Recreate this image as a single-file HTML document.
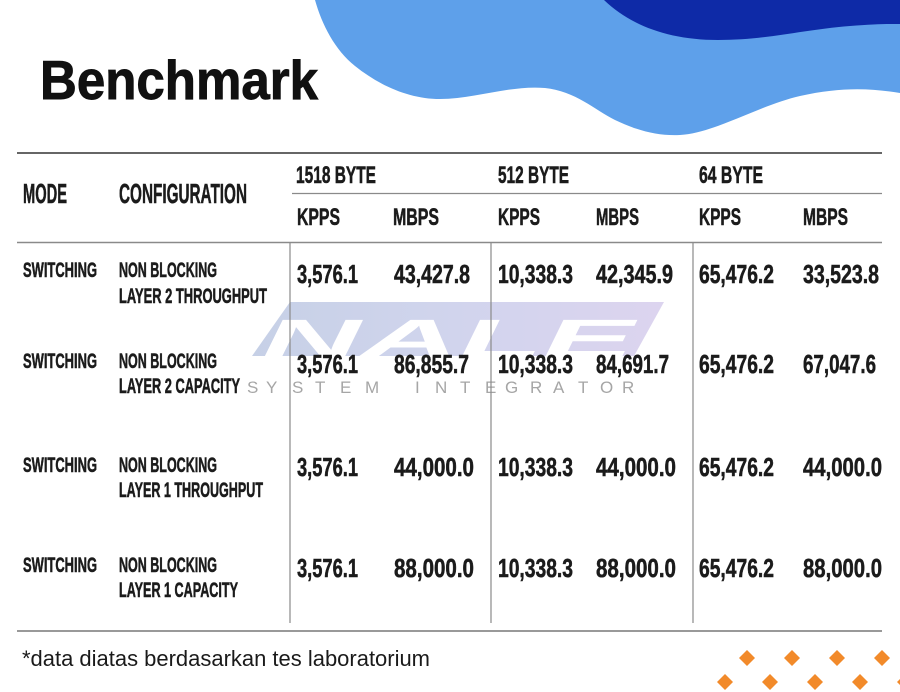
<!DOCTYPE html>
<html>
<head>
<meta charset="utf-8">
<style>
  html,body{margin:0;padding:0;background:#fff;}
  body{width:900px;height:692px;overflow:hidden;}
  svg{display:block;}
  .h{font-family:"Liberation Sans",sans-serif;font-weight:bold;fill:#1b1b1b;stroke:#1b1b1b;stroke-width:0.55;}
</style>
</head>
<body>
<svg width="900" height="692" viewBox="0 0 900 692" xmlns="http://www.w3.org/2000/svg">
  <defs>
    <linearGradient id="wm" x1="0" y1="0" x2="1" y2="0">
      <stop offset="0" stop-color="#bcc8e2"/>
      <stop offset="0.5" stop-color="#c9cdea"/>
      <stop offset="1" stop-color="#d6cdec"/>
    </linearGradient>
  </defs>
  <rect width="900" height="692" fill="#fff"/>

  <!-- waves -->
  <path d="M315,0 C322,25 335,50 355,66 C380,86 410,99 440,99 C475,99 510,85 545,88 C575,91 595,110 615,120 C640,132 660,136 680,135 C715,133 760,105 800,96 C840,87 870,88 900,93 L900,0 Z" fill="#5ea0ea"/>
  <path d="M604,0 C630,25 668,40 718,40 C768,40 800,30 850,26 C875,24 890,24 900,24 L900,0 Z" fill="#0e2aa7"/>

  <!-- title -->
  <text x="40" y="99" font-family="Liberation Sans, sans-serif" font-weight="bold" font-size="55" fill="#111" stroke="#111" stroke-width="0.9" textLength="278" lengthAdjust="spacingAndGlyphs">Benchmark</text>

  <!-- watermark -->
  <polygon points="290,302 664,302 634,356 252,356" fill="url(#wm)" opacity="0.85"/>
  <text x="262" y="357" font-family="Liberation Sans, sans-serif" font-weight="bold" font-style="italic" font-size="54" fill="#fff" textLength="372" lengthAdjust="spacingAndGlyphs">NALE</text>
  <text y="393" font-family="Liberation Sans, sans-serif" font-size="17" fill="#a6a6a6" x="247 266 292 315 340 365 415 435 460 485 505 530 553 578 600 622">SYSTEMINTEGRATOR</text>

  <!-- lines -->
  <line x1="17" y1="153" x2="882" y2="153" stroke="#333" stroke-width="1.5"/>
  <line x1="292" y1="193.5" x2="882" y2="193.5" stroke="#8a8a8a" stroke-width="1.2"/>
  <line x1="17" y1="242.5" x2="882" y2="242.5" stroke="#8a8a8a" stroke-width="1.5"/>
  <line x1="17" y1="631" x2="882" y2="631" stroke="#999" stroke-width="2"/>
  <line x1="290" y1="242" x2="290" y2="623" stroke="#8a8a8a" stroke-width="1.2"/>
  <line x1="491" y1="242" x2="491" y2="623" stroke="#8a8a8a" stroke-width="1.2"/>
  <line x1="693" y1="242" x2="693" y2="623" stroke="#8a8a8a" stroke-width="1.2"/>

  <!-- header -->
  <g class="h" font-size="28">
    <text x="23" y="203" textLength="44" lengthAdjust="spacingAndGlyphs">MODE</text>
    <text x="119" y="203" textLength="128" lengthAdjust="spacingAndGlyphs">CONFIGURATION</text>
  </g>
  <g class="h" font-size="24">
    <text x="296" y="183" textLength="80" lengthAdjust="spacingAndGlyphs">1518 BYTE</text>
    <text x="498" y="183" textLength="71" lengthAdjust="spacingAndGlyphs">512 BYTE</text>
    <text x="699" y="183" textLength="64" lengthAdjust="spacingAndGlyphs">64 BYTE</text>
    <text x="297" y="225" textLength="43" lengthAdjust="spacingAndGlyphs">KPPS</text>
    <text x="393" y="225" textLength="46" lengthAdjust="spacingAndGlyphs">MBPS</text>
    <text x="498" y="225" textLength="42" lengthAdjust="spacingAndGlyphs">KPPS</text>
    <text x="596" y="225" textLength="43" lengthAdjust="spacingAndGlyphs">MBPS</text>
    <text x="699" y="225" textLength="42" lengthAdjust="spacingAndGlyphs">KPPS</text>
    <text x="803" y="225" textLength="45" lengthAdjust="spacingAndGlyphs">MBPS</text>
  </g>

  <!-- row labels -->
  <g class="h" font-size="21">
    <text x="23" y="277" textLength="74" lengthAdjust="spacingAndGlyphs">SWITCHING</text>
    <text x="119" y="277" textLength="98" lengthAdjust="spacingAndGlyphs">NON BLOCKING</text>
    <text x="119" y="303" textLength="148" lengthAdjust="spacingAndGlyphs">LAYER 2 THROUGHPUT</text>

    <text x="23" y="368" textLength="74" lengthAdjust="spacingAndGlyphs">SWITCHING</text>
    <text x="119" y="368" textLength="98" lengthAdjust="spacingAndGlyphs">NON BLOCKING</text>
    <text x="119" y="393" textLength="121" lengthAdjust="spacingAndGlyphs">LAYER 2 CAPACITY</text>

    <text x="23" y="472" textLength="74" lengthAdjust="spacingAndGlyphs">SWITCHING</text>
    <text x="119" y="472" textLength="98" lengthAdjust="spacingAndGlyphs">NON BLOCKING</text>
    <text x="119" y="497" textLength="144" lengthAdjust="spacingAndGlyphs">LAYER 1 THROUGHPUT</text>

    <text x="23" y="572" textLength="74" lengthAdjust="spacingAndGlyphs">SWITCHING</text>
    <text x="119" y="572" textLength="98" lengthAdjust="spacingAndGlyphs">NON BLOCKING</text>
    <text x="119" y="597" textLength="119" lengthAdjust="spacingAndGlyphs">LAYER 1 CAPACITY</text>
  </g>

  <!-- values -->
  <g class="h" font-size="26">
    <text x="297" y="283" textLength="61" lengthAdjust="spacingAndGlyphs">3,576.1</text>
    <text x="394" y="283" textLength="76" lengthAdjust="spacingAndGlyphs">43,427.8</text>
    <text x="498" y="283" textLength="75" lengthAdjust="spacingAndGlyphs">10,338.3</text>
    <text x="596" y="283" textLength="77" lengthAdjust="spacingAndGlyphs">42,345.9</text>
    <text x="699" y="283" textLength="75" lengthAdjust="spacingAndGlyphs">65,476.2</text>
    <text x="803" y="283" textLength="76" lengthAdjust="spacingAndGlyphs">33,523.8</text>

    <text x="297" y="373" textLength="61" lengthAdjust="spacingAndGlyphs">3,576.1</text>
    <text x="394" y="373" textLength="75" lengthAdjust="spacingAndGlyphs">86,855.7</text>
    <text x="498" y="373" textLength="75" lengthAdjust="spacingAndGlyphs">10,338.3</text>
    <text x="596" y="373" textLength="73" lengthAdjust="spacingAndGlyphs">84,691.7</text>
    <text x="699" y="373" textLength="75" lengthAdjust="spacingAndGlyphs">65,476.2</text>
    <text x="803" y="373" textLength="73" lengthAdjust="spacingAndGlyphs">67,047.6</text>

    <text x="297" y="476" textLength="61" lengthAdjust="spacingAndGlyphs">3,576.1</text>
    <text x="394" y="476" textLength="80" lengthAdjust="spacingAndGlyphs">44,000.0</text>
    <text x="498" y="476" textLength="75" lengthAdjust="spacingAndGlyphs">10,338.3</text>
    <text x="596" y="476" textLength="80" lengthAdjust="spacingAndGlyphs">44,000.0</text>
    <text x="699" y="476" textLength="75" lengthAdjust="spacingAndGlyphs">65,476.2</text>
    <text x="803" y="476" textLength="79" lengthAdjust="spacingAndGlyphs">44,000.0</text>

    <text x="297" y="577" textLength="61" lengthAdjust="spacingAndGlyphs">3,576.1</text>
    <text x="394" y="577" textLength="80" lengthAdjust="spacingAndGlyphs">88,000.0</text>
    <text x="498" y="577" textLength="75" lengthAdjust="spacingAndGlyphs">10,338.3</text>
    <text x="596" y="577" textLength="80" lengthAdjust="spacingAndGlyphs">88,000.0</text>
    <text x="699" y="577" textLength="75" lengthAdjust="spacingAndGlyphs">65,476.2</text>
    <text x="803" y="577" textLength="79" lengthAdjust="spacingAndGlyphs">88,000.0</text>
  </g>

  <!-- footer -->
  <text x="22" y="666" font-family="Liberation Sans, sans-serif" font-size="22" fill="#1a1a1a" textLength="408" lengthAdjust="spacingAndGlyphs">*data diatas berdasarkan tes laboratorium</text>

  <!-- diamonds -->
  <g fill="#f28a2a">
    <polygon points="747,650 755,658 747,666 739,658"/>
    <polygon points="792,650 800,658 792,666 784,658"/>
    <polygon points="837,650 845,658 837,666 829,658"/>
    <polygon points="882,650 890,658 882,666 874,658"/>
    <polygon points="725,674 733,682 725,690 717,682"/>
    <polygon points="770,674 778,682 770,690 762,682"/>
    <polygon points="815,674 823,682 815,690 807,682"/>
    <polygon points="860,674 868,682 860,690 852,682"/>
    <polygon points="905,674 913,682 905,690 897,682"/>
  </g>
</svg>
</body>
</html>
